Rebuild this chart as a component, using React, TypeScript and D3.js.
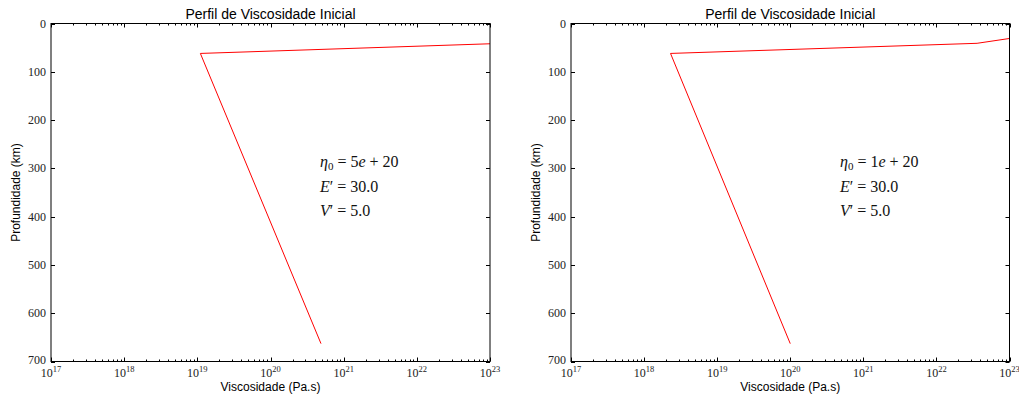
import React, { useEffect, useRef } from "react";
import * as d3 from "d3";

// profile values: depth (km) and viscosity (Pa.s)
const depthsA = [42, 62, 663];
const viscA = [1e23, 1.1e19, 4.9e20];
const depthsB = [31, 41, 62, 663];
const viscB = [1e23, 3.6e22, 2.3e18, 1e20];

const labelsA = ["\u03b7", "0", "5e + 20"];
const labelsB = ["\u03b7", "0", "1e + 20"];
const eLabel = "30.0";
const vLabel = "5.0";

const xExponents = [17, 18, 19, 20, 21, 22, 23];
const yTicks = [0, 100, 200, 300, 400, 500, 600, 700];

const W = 1019;
const H = 397;

const App = () => {
  const ref = useRef<SVGSVGElement>(null);

  useEffect(() => {
    draw();
  });

  const draw = () => {
    const root = d3.select(ref.current);
    root.selectAll("*").remove();

    const panels = [
      { left: 51, right: 490, depths: depthsA, visc: viscA, eta: labelsA, ann: 320, id: "a" },
      { left: 571, right: 1009.5, depths: depthsB, visc: viscB, eta: labelsB, ann: 840, id: "b" },
    ];
    const top = 23.5;
    const bottom = 361.5;

    panels.forEach((p) => {
      const x = d3.scaleLog().domain([1e17, 1e23]).range([p.left, p.right]);
      const y = d3.scaleLinear().domain([0, 700]).range([top, bottom]);
      const g = root.append("g");

      g.append("clipPath")
        .attr("id", "clip" + p.id)
        .append("rect")
        .attr("x", p.left)
        .attr("y", top)
        .attr("width", p.right - p.left)
        .attr("height", bottom - top);

      // profile line
      const pts = p.depths.map((d, i) => [p.visc[i], d] as [number, number]);
      const line = d3
        .line<[number, number]>()
        .x((d) => x(d[0]))
        .y((d) => y(d[1]));
      g.append("path")
        .attr("d", line(pts))
        .attr("fill", "none")
        .attr("stroke", "#ff0000")
        .attr("stroke-width", 1)
        .attr("clip-path", `url(#clip${p.id})`);

      // ticks: major and minor, inward on all four sides
      const minors: number[] = [];
      for (let e = 17; e < 23; e++) {
        for (let m = 2; m <= 9; m++) minors.push(m * Math.pow(10, e));
      }
      const tk = g.append("g").attr("stroke", "#000").attr("stroke-width", 1);
      minors.forEach((v) => {
        const xx = Math.round(x(v)) + 0.5;
        tk.append("line").attr("x1", xx).attr("x2", xx).attr("y1", bottom).attr("y2", bottom - 2);
        tk.append("line").attr("x1", xx).attr("x2", xx).attr("y1", top).attr("y2", top + 2);
      });
      xExponents.forEach((e) => {
        const xx = Math.round(x(Math.pow(10, e))) + 0.5;
        tk.append("line").attr("x1", xx).attr("x2", xx).attr("y1", bottom).attr("y2", bottom - 4);
        tk.append("line").attr("x1", xx).attr("x2", xx).attr("y1", top).attr("y2", top + 4);
      });
      yTicks.forEach((t) => {
        const yy = Math.round(y(t)) + 0.5;
        tk.append("line").attr("x1", p.left).attr("x2", p.left + 4).attr("y1", yy).attr("y2", yy);
        tk.append("line").attr("x1", p.right).attr("x2", p.right - 4).attr("y1", yy).attr("y2", yy);
      });

      // frame
      g.append("rect")
        .attr("x", p.left)
        .attr("y", top)
        .attr("width", p.right - p.left)
        .attr("height", bottom - top)
        .attr("fill", "none")
        .attr("stroke", "#000")
        .attr("stroke-width", 1);

      // x tick labels 10^n
      xExponents.forEach((e) => {
        const t = g
          .append("text")
          .attr("x", x(Math.pow(10, e)))
          .attr("y", 376.5)
          .attr("text-anchor", "middle")
          .style("font-family", "'Liberation Serif', serif")
          .style("font-size", "12px")
          .attr("fill", "#222");
        t.append("tspan").text("10");
        t.append("tspan").attr("dy", -5).style("font-size", "8.5px").text(String(e));
      });

      // y tick labels
      yTicks.forEach((t) => {
        g.append("text")
          .attr("x", p.left - 5)
          .attr("y", y(t) + (t === 700 ? 2.5 : 4))
          .attr("text-anchor", "end")
          .style("font-family", "'Liberation Serif', serif")
          .style("font-size", "12px")
          .attr("fill", "#222")
          .text(t);
      });

      const mid = (p.left + p.right) / 2;
      g.append("text")
        .attr("x", mid)
        .attr("y", 19)
        .attr("text-anchor", "middle")
        .style("font-family", "'Liberation Sans', Arial, sans-serif")
        .style("font-size", "14px")
        .text("Perfil de Viscosidade Inicial");

      g.append("text")
        .attr("x", mid)
        .attr("y", 391)
        .attr("text-anchor", "middle")
        .style("font-family", "'Liberation Sans', Arial, sans-serif")
        .style("font-size", "12px")
        .text("Viscosidade (Pa.s)");

      g.append("text")
        .attr("transform", `translate(${p.left - 31}, ${(top + bottom) / 2}) rotate(-90)`)
        .attr("text-anchor", "middle")
        .style("font-family", "'Liberation Sans', Arial, sans-serif")
        .style("font-size", "12px")
        .text("Profundidade (km)");

      // annotation block
      const ann = g
        .append("g")
        .style("font-family", "'Liberation Serif', serif")
        .style("font-size", "16px")
        .attr("fill", "#111");
      const t1 = ann.append("text").attr("x", p.ann).attr("y", 167);
      t1.append("tspan").style("font-style", "italic").text(p.eta[0]);
      t1.append("tspan").attr("dy", 3).style("font-size", "11px").text(p.eta[1]);
      t1.append("tspan").attr("dy", -3).text(" = " + p.eta[2][0]);
      t1.append("tspan").style("font-style", "italic").text(p.eta[2][1]);
      t1.append("tspan").text(p.eta[2].slice(2));

      const t2 = ann.append("text").attr("x", p.ann).attr("y", 192);
      t2.append("tspan").style("font-style", "italic").text("E");
      t2.append("tspan").text("\u2032 = " + eLabel);

      const t3 = ann.append("text").attr("x", p.ann).attr("y", 216);
      t3.append("tspan").style("font-style", "italic").text("V");
      t3.append("tspan").text("\u2032 = " + vLabel);
    });
  };

  return (
    <svg
      ref={ref}
      width={W}
      height={H}
      style={{ position: "absolute", left: 0, top: 0, background: "#fff" }}
    ></svg>
  );
};

export default App;
